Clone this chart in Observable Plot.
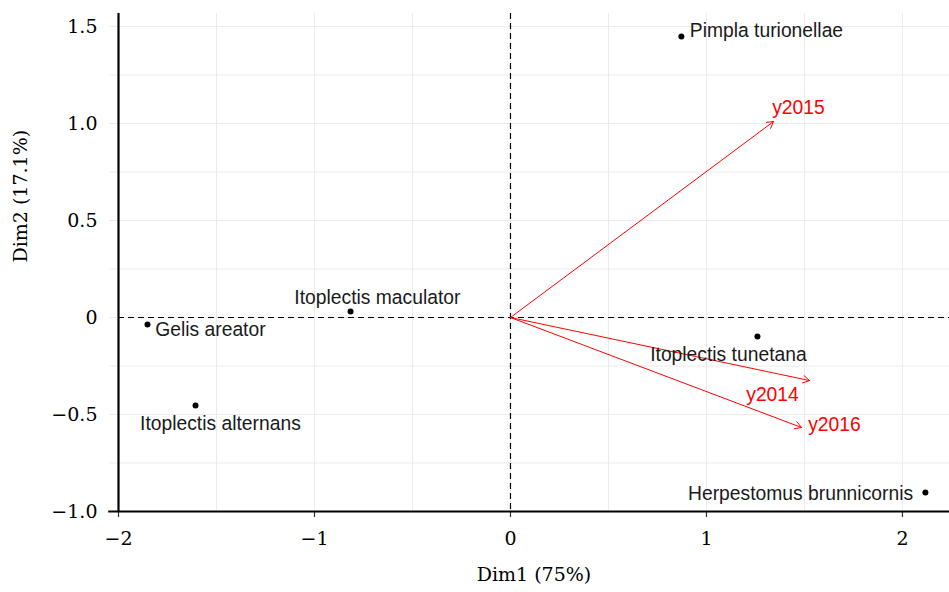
<!DOCTYPE html>
<html>
<head>
<meta charset="utf-8">
<script src="https://cdn.jsdelivr.net/npm/d3@7"></script>
<script src="https://cdn.jsdelivr.net/npm/@observablehq/plot@0.6"></script>
<style>
  html, body { margin: 0; padding: 0; background: #fff; }
</style>
</head>
<body>
<div id="chart"></div>
<script>
// Individuals (species) coordinates
const species = ["Pimpla turionellae", "Itoplectis maculator", "Gelis areator", "Itoplectis alternans", "Itoplectis tunetana", "Herpestomus brunnicornis"];
const speciesDim1 = [0.872, -0.816, -1.852, -1.607, 1.26, 2.117];
const speciesDim2 = [1.448, 0.031, -0.036, -0.454, -0.098, -0.902];
// repelled label positions (data units)
const speciesLabelDim1 = [1.306, -0.679, -1.531, -1.480, 1.112, 1.480];
const speciesLabelDim2 = [1.479, 0.103, -0.062, -0.546, -0.191, -0.907];

// Variables (years) arrows
const years = ["y2015", "y2014", "y2016"];
const yearsDim1 = [1.342, 1.526, 1.485];
const yearsDim2 = [1.01, -0.325, -0.567];
const yearsLabelDim1 = [1.469, 1.337, 1.653];
const yearsLabelDim2 = [1.082, -0.397, -0.552];

// axis ticks
const xTicks = [-2, -1, 0, 1, 2];
const xGrid = [-2, -1.5, -1, -0.5, 0, 0.5, 1, 1.5, 2];
const yTicks = [-1, -0.5, 0, 0.5, 1, 1.5];
const yGrid = [-1, -0.75, -0.5, -0.25, 0, 0.25, 0.5, 0.75, 1, 1.25, 1.5];

const ind = species.map((name, i) => ({name, x: speciesDim1[i], y: speciesDim2[i], lx: speciesLabelDim1[i], ly: speciesLabelDim2[i]}));
const vars = years.map((name, i) => ({name, x: yearsDim1[i], y: yearsDim2[i], lx: yearsLabelDim1[i], ly: yearsLabelDim2[i]}));

const serif = "'DejaVu Serif', serif";
const sans = "'Liberation Sans', Arial, sans-serif";
const minus = s => s.replace("-", "\u2212");
const yFmt = d => d === 0 ? "0" : minus(d3.format(".1f")(d));
const xFmt = d => minus(String(d));

const chart = Plot.plot({
  width: 949,
  height: 592,
  marginLeft: 118,
  marginRight: 0,
  marginTop: 13,
  marginBottom: 81,
  style: {background: "#fff", fontFamily: serif},
  x: {domain: [-2, 2.24]},
  y: {domain: [-1, 1.567]},
  marks: [
    Plot.gridX(xGrid, {stroke: "#ebebeb", strokeOpacity: 1, strokeWidth: 1}),
    Plot.gridY(yGrid, {stroke: "#ebebeb", strokeOpacity: 1, strokeWidth: 1}),
    // light y ticks
    Plot.axisY(yGrid, {tickSize: 9, stroke: "#ebebeb", strokeOpacity: 1, tickFormat: () => "", label: null}),
    Plot.axisY(yTicks, {tickSize: 0, tickPadding: 21, tickFormat: yFmt, fontSize: 19, fontFamily: serif, fill: "#000", label: null}),
    Plot.axisX(xTicks, {tickSize: 6, stroke: "#333", strokeWidth: 1.2, tickPadding: 14, tickFormat: xFmt, fontSize: 19, fontFamily: serif, fill: "#000", label: null}),
    Plot.ruleX([0], {stroke: "#000", strokeDasharray: "6,4", strokeWidth: 1.2}),
    Plot.ruleY([0], {stroke: "#000", strokeDasharray: "6,4", strokeWidth: 1.2}),
    Plot.ruleX([-2], {stroke: "#000", strokeWidth: 2.2}),
    Plot.ruleY([-1], {stroke: "#000", strokeWidth: 2.2, x1: -2.05, x2: 2.24}),
    Plot.arrow(vars, {x1: () => 0, y1: () => 0, x2: "x", y2: "y", stroke: "#ff0000", strokeWidth: 1, headLength: 11, headAngle: 60}),
    Plot.dot(ind, {x: "x", y: "y", r: 3, fill: "#000", stroke: null}),
    Plot.text(ind, {x: "lx", y: "ly", text: "name", fontSize: 19.3, fontFamily: sans, fill: "#1a1a1a", textAnchor: "middle"}),
    Plot.text(vars, {x: "lx", y: "ly", text: "name", fontSize: 19.3, fontFamily: sans, fill: "#ff0000", textAnchor: "middle"}),
    Plot.text(["Dim1 (75%)"], {frameAnchor: "bottom", dy: 69, fontSize: 19, fontFamily: serif, fill: "#000"}),
    Plot.text(["Dim2 (17.1%)"], {frameAnchor: "left", dx: -98, rotate: -90, fontSize: 19, fontFamily: serif, fill: "#000"})
  ]
});
document.getElementById("chart").appendChild(chart);
</script>
</body>
</html>
